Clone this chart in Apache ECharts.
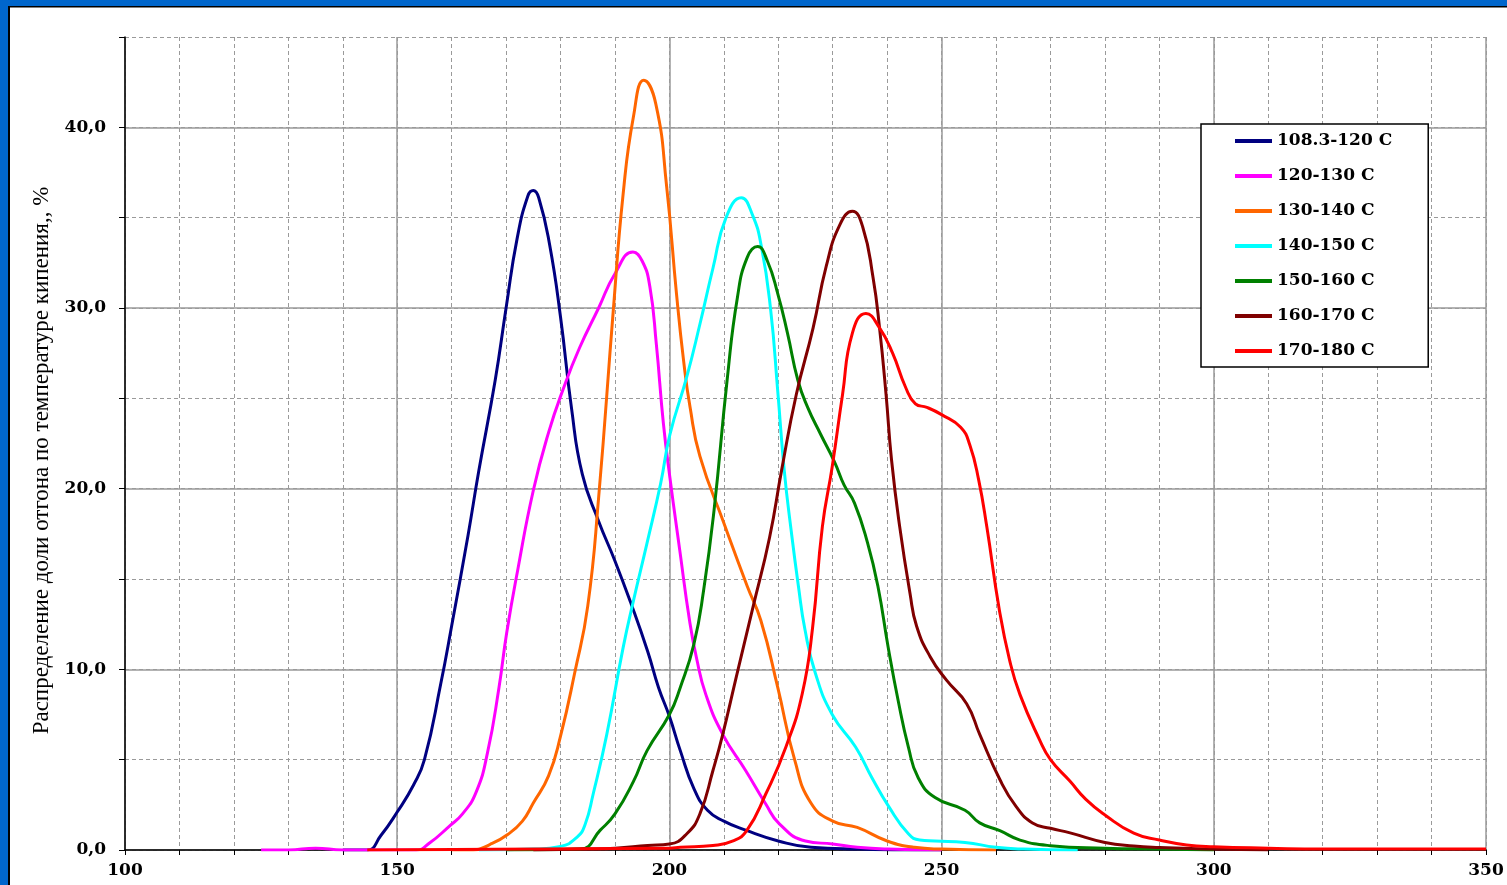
<!DOCTYPE html>
<html>
<head>
<meta charset="utf-8">
<script src="https://cdn.jsdelivr.net/npm/echarts@6/dist/echarts.min.js"></script>
<style>
html,body{margin:0;padding:0;background:#fff;}
#chart{width:1507px;height:885px;}
</style>
</head>
<body>
<div id="chart"></div>
<script>
// ---- data (temperature, %) ----
const seriesNames = ['108.3-120 C','120-130 C','130-140 C','140-150 C','150-160 C','160-170 C','170-180 C'];
const seriesColors = ['#000080','#FF00FF','#FF6600','#00FFFF','#008000','#800000','#FF0000'];
const yTitle = 'Распределение доли отгона по температуре кипения,, %';

const s108_120 = [[140,0],[144.5,0],[147,0.8],[150,2.1],[153,3.6],[155,5],[158,9.2],[160,12.4],[163,17.4],[165,21],[168,26],[170,30],[172,33.8],[174,36.2],[175,36.5],[176,36.1],[178,33.5],[180,29.5],[182,24.5],[184,20.8],[187,18.2],[190,16],[193,13.6],[196,11],[198,9],[200,7.4],[202,5.5],[204.5,3.4],[207,2.2],[210,1.6],[214,1.1],[220,0.5],[226,0.15],[235,0.05],[245,0],[250,0]];
const s120_130 = [[125,0],[130,0],[135,0.1],[140,0],[145,0],[150,0],[153.5,0],[156,0.4],[159.5,1.3],[162,2],[164.5,3.2],[166.6,5.4],[168.7,9],[170.1,12],[172.2,15.6],[175,19.9],[177.8,23.1],[180.6,25.6],[183.5,27.8],[187,30],[190,31.9],[193.3,33.1],[195,32.6],[196.4,31.2],[197.6,28],[198.9,23.6],[200.1,20.6],[201.9,16.6],[203.7,12.7],[205,10.6],[206.7,8.6],[209.8,6.4],[214,4.4],[217.7,2.55],[220.2,1.45],[225,0.5],[230,0.33],[234.5,0.15],[240,0.05],[250,0]];
const s130_140 = [[160,0],[164,0],[167,0.3],[170.3,0.86],[173,1.6],[175,2.6],[177.8,4.1],[180,6.3],[182.6,9.8],[185,13.5],[187,19.5],[189.7,29.9],[191.5,36.3],[193.4,40.6],[195.3,42.6],[197.5,41.3],[199.5,36.7],[201.3,30.8],[202.6,27.1],[203.8,24.5],[205.6,21.8],[210,18.1],[214.3,14.6],[216.8,12.7],[219.9,9],[223,5],[226,2.6],[230,1.6],[234.5,1.25],[240,0.5],[245,0.15],[250,0.05],[260,0]];
const s140_150 = [[165,0],[175,0.05],[180,0.2],[183,0.7],[184.5,1.4],[186,3.1],[188.5,6.4],[191.5,11.2],[193.4,13.8],[195.9,17],[198.4,20.3],[200.1,23],[203.2,26.2],[205.6,29.1],[208,32.2],[210.4,35],[213.2,36.1],[215.2,35.2],[216.9,33.4],[218.6,29.9],[219.9,25.4],[221.1,21],[222.4,17.6],[223.7,14.6],[224.9,12.2],[226.8,9.8],[229.9,7.5],[234.2,5.7],[237.2,4],[240.3,2.4],[243.9,0.9],[246,0.55],[248.8,0.5],[254.3,0.42],[260,0.15],[265,0.05],[275,0]];
const s150_160 = [[170,0],[183.6,0.05],[187.3,1.1],[190,2],[193.4,3.8],[195.9,5.5],[200,7.5],[202,9],[204.5,11.4],[206.3,14.4],[208.2,18.8],[210.6,26],[212.5,30.6],[214.3,32.8],[216.2,33.4],[218,32.6],[219.9,30.8],[221.7,28.6],[223.6,26],[225.4,24.5],[227.8,23],[230.3,21.5],[232.1,20.2],[234,19.2],[236.4,17],[238.3,14.6],[240.2,11.2],[242,8.3],[243.9,5.7],[245.7,4],[248.8,2.9],[254.3,2.2],[257,1.5],[260.7,1.07],[264.4,0.55],[270,0.24],[280,0.1],[290,0.05],[300,0]];
const s160_170 = [[175,0],[185,0.05],[190,0.1],[196,0.25],[200,0.33],[203.2,0.9],[205.6,2],[208,4.4],[209.8,6.4],[212.3,9.6],[215.4,13.5],[218.4,17.3],[220.6,21],[223.3,25.2],[226.4,28.9],[228.8,32.3],[231.3,34.6],[233.6,35.35],[235.5,34.5],[237.4,31.7],[238.6,28.9],[239.8,25.2],[240.8,21.6],[242.3,17.9],[244.2,14.2],[245.4,12.4],[247.9,10.7],[250.9,9.4],[254.6,8.1],[257,6.4],[260.7,3.9],[263.7,2.4],[266.7,1.5],[270,1.2],[273.6,0.95],[280,0.42],[285.3,0.22],[290,0.14],[300,0.05],[310,0]];
const s170_180 = [[144.5,0],[200,0.1],[202,0.15],[208,0.25],[211.7,0.5],[214.2,1.07],[217.7,3.1],[221.4,5.7],[224.4,8.65],[226.3,12.3],[228.1,17.9],[229.9,21.2],[231.8,25.2],[233.6,28.6],[236.1,29.7],[238.6,28.9],[241,27.5],[243.4,25.6],[245.2,24.7],[247.3,24.5],[250,24.1],[253.5,23.4],[255.2,22.4],[256.8,20.5],[258.3,17.9],[260.6,13.3],[262.5,10.5],[264.4,8.6],[268,6.1],[270,5],[273.6,3.8],[276.5,2.8],[280,1.94],[285.3,0.93],[290,0.55],[295,0.28],[300,0.18],[310,0.1],[320,0.05],[350,0.05]];
const seriesData = [s108_120, s120_130, s130_140, s140_150, s150_160, s160_170, s170_180];

const xMin = 100, xMax = 350, xMinor = 10, xMajor = 50;
const yMin = 0, yMax = 45, yMinor = 5, yMajor = 10;

const chart = echarts.init(document.getElementById('chart'));
const gridCol = '#9a9a9a';
const labelFont = {fontFamily: 'DejaVu Serif', fontWeight: 'bold', fontSize: 17, color: '#000'};

chart.setOption({
  animation: false,
  backgroundColor: '#fff',
  graphic: [
    {type: 'rect', shape: {x: 0, y: 0, width: 1507, height: 6}, style: {fill: '#0066CC'}, z: 100},
    {type: 'rect', shape: {x: 0, y: 0, width: 8, height: 885}, style: {fill: '#0066CC'}, z: 100},
    {type: 'rect', shape: {x: 8, y: 6, width: 1499, height: 1.5}, style: {fill: '#000'}, z: 100},
    {type: 'rect', shape: {x: 8, y: 6, width: 2, height: 879}, style: {fill: '#000'}, z: 100}
  ],
  grid: {left: 125, right: 21, top: 37, bottom: 35, containLabel: false},
  legend: {
    orient: 'vertical', left: 1201, top: 124,
    data: seriesNames,
    icon: 'rect',
    backgroundColor: '#fff', borderColor: '#000', borderWidth: 1.5,
    padding: [7, 36, 6, 34],
    itemWidth: 37, itemHeight: 4, itemGap: 15,
    textStyle: {fontFamily: 'DejaVu Serif', fontWeight: 'bold', fontSize: 17, color: '#000', lineHeight: 20, height: 20}
  },
  xAxis: [
    {
      type: 'value', min: xMin, max: xMax, interval: xMinor, position: 'bottom',
      axisLine: {show: true, onZero: false, lineStyle: {color: '#000', width: 1.5}},
      axisTick: {show: true, length: 5, lineStyle: {color: '#000', width: 1}},
      axisLabel: {margin: 12, ...labelFont, formatter: v => (v % xMajor === 0 ? String(v) : '')},
      splitLine: {show: true, lineStyle: {color: gridCol, width: 1, type: [4, 3]}}
    },
    {
      type: 'value', min: xMin, max: xMax, interval: xMajor, position: 'bottom',
      axisLine: {show: false}, axisTick: {show: false}, axisLabel: {show: false},
      splitLine: {show: true, lineStyle: {color: gridCol, width: 1.5, type: 'solid'}}
    }
  ],
  yAxis: [
    {
      type: 'value', min: yMin, max: yMax, interval: yMinor, position: 'left',
      name: yTitle, nameLocation: 'middle', nameGap: 65, nameRotate: 90,
      nameTextStyle: {fontFamily: 'Liberation Serif', fontSize: 23, color: '#000', padding: [0, 34, 0, 0]},
      axisLine: {show: true, onZero: false, lineStyle: {color: '#000', width: 1.5}},
      axisTick: {show: true, length: 6, lineStyle: {color: '#000', width: 1}},
      axisLabel: {margin: 19, ...labelFont, formatter: v => (v % yMajor === 0 ? v.toFixed(1).replace('.', ',') : '')},
      splitLine: {show: true, lineStyle: {color: gridCol, width: 1, type: [4, 3]}}
    },
    {
      type: 'value', min: yMin, max: yMax, interval: yMajor, position: 'left',
      axisLine: {show: false}, axisTick: {show: false}, axisLabel: {show: false},
      splitLine: {show: true, lineStyle: {color: [gridCol, gridCol, gridCol, gridCol, gridCol, 'rgba(0,0,0,0)'], width: 1.5, type: 'solid'}}
    }
  ],
  series: seriesNames.map((name, i) => ({
    name: name, type: 'line', xAxisIndex: 0, yAxisIndex: 0,
    data: seriesData[i], smooth: 0.5, symbol: 'none', showSymbol: false,
    color: seriesColors[i],
    lineStyle: {color: seriesColors[i], width: 3}
  }))
});
</script>
</body>
</html>
